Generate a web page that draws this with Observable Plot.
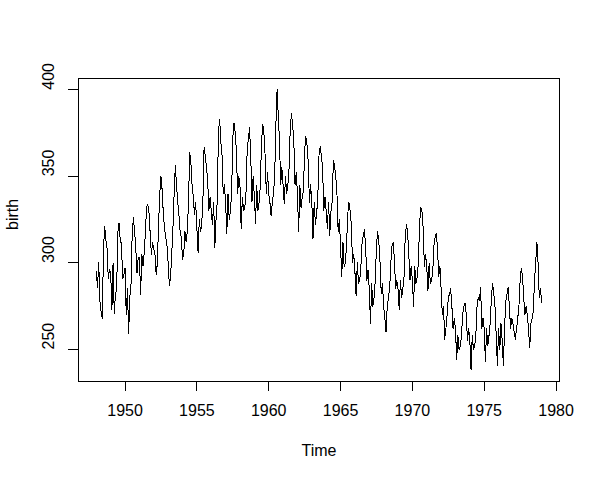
<!DOCTYPE html>
<html>
<head>
<meta charset="utf-8">
<script src="https://cdn.jsdelivr.net/npm/d3@7"></script>
<script src="https://cdn.jsdelivr.net/npm/@observablehq/plot@0.6"></script>
<style>
  html, body { margin: 0; padding: 0; background: white; }
</style>
</head>
<body>
<div id="chart"></div>
<script>
// Monthly US births (thousands), Jan 1948 .. Jan 1979
const startYear = 1948;
const birth = [
  295,286,300,278,272,268,308,321,313,308,291,296,
  294,273,300,271,282,285,318,323,313,311,291,293,
  297,270,285,259,280,288,318,326,318,308,294,303,
  303,282,305,298,306,318,332,334,329,317,305,312,
  308,305,293,300,322,340,350,342,328,320,315,310,
  300,287,292,305,320,340,356,345,335,328,318,315,
  302,305,318,312,318,335,364,358,345,338,328,335,
  320,306,325,318,322,335,367,362,355,348,330,338,
  330,322,335,309,325,335,375,383,370,362,340,345,
  335,317,340,325,330,340,372,381,375,365,340,350,
  345,320,338,330,332,340,365,372,378,362,335,350,
  338,323,345,330,335,345,370,380,375,362,340,352,
  340,335,327,335,340,350,380,400,385,370,345,355,
  345,334,350,340,345,355,378,386,380,370,345,352,
  340,318,345,332,338,342,365,373,368,358,335,345,
  335,314,335,322,328,338,362,367,362,355,330,338,
  330,320,335,316,330,335,359,356,350,340,318,325,
  310,292,312,298,300,310,328,335,330,322,300,305,
  295,281,300,288,290,298,312,316,319,308,290,296,
  285,265,288,275,280,290,310,318,312,300,282,288,
  275,268,260,275,280,285,300,310,312,302,285,290,
  285,273,290,280,285,292,315,322,318,305,290,298,
  290,275,298,288,292,300,322,332,330,320,298,305,
  298,284,300,288,290,295,310,315,317,308,292,298,
  285,270,275,256,262,270,280,282,285,275,262,268,
  262,244,258,250,252,258,270,275,277,270,255,262,
  255,238,258,250,252,258,275,280,278,286,262,268,
  262,243,262,252,258,265,280,288,282,275,258,241,
  262,250,265,255,241,262,278,282,286,275,262,268,
  265,260,256,262,268,275,290,297,292,280,270,275,
  270,262,251,265,268,272,290,300,312,300,280,285,
  277
];
const xTicks = [1950, 1955, 1960, 1965, 1970, 1975, 1980];
const yTicks = [250, 300, 350, 400];
const xLabel = "Time";
const yLabel = "birth";

const data = birth.map((v, i) => ({t: startYear + i / 12, v}));

// R-style 4% axis expansion
const tMin = startYear, tMax = startYear + (birth.length - 1) / 12;
const vMin = d3.min(birth), vMax = d3.max(birth);
const xPad = (tMax - tMin) * 0.04, yPad = (vMax - vMin) * 0.04;
const xDom = [tMin - xPad, tMax + xPad];
const yDom = [vMin - yPad, vMax + yPad];
const xMid = (xDom[0] + xDom[1]) / 2, yMid = (yDom[0] + yDom[1]) / 2;

const font = "'Liberation Sans', Arial, Helvetica, sans-serif";

const chart = Plot.plot({
  width: 600,
  height: 479,
  marginLeft: 78,
  marginRight: 41,
  marginTop: 78,
  marginBottom: 98,
  x: {domain: xDom, axis: null},
  y: {domain: yDom, axis: null},
  style: {fontFamily: font, fontSize: "16px", background: "white", color: "black"},
  marks: [
    Plot.frame({stroke: "black", strokeWidth: 1, shapeRendering: "crispEdges"}),
    Plot.axisX({ticks: xTicks, tickSize: 9.6, tickPadding: 13.5, tickFormat: d => String(d), fontSize: 16, label: null, shapeRendering: "crispEdges"}),
    Plot.ruleY(yTicks, {y: d => d, x1: xDom[0], x2: xDom[0], insetLeft: -9.6, stroke: "black", shapeRendering: "crispEdges"}),
    Plot.text(yTicks, {y: d => d, frameAnchor: "left", dx: -30, rotate: -90, text: d => String(d), fontSize: 16, fill: "black"}),
    Plot.line(data, {x: "t", y: "v", stroke: "black", strokeWidth: 1, shapeRendering: "crispEdges"}),
    Plot.text([xLabel], {x: () => xMid, frameAnchor: "bottom", dy: 74, text: d => d, fontSize: 16, fill: "black"}),
    Plot.text([yLabel], {y: () => yMid, frameAnchor: "left", dx: -65.5, rotate: -90, text: d => d, fontSize: 16, fill: "black"})
  ]
});
document.getElementById("chart").appendChild(chart);
</script>
</body>
</html>
